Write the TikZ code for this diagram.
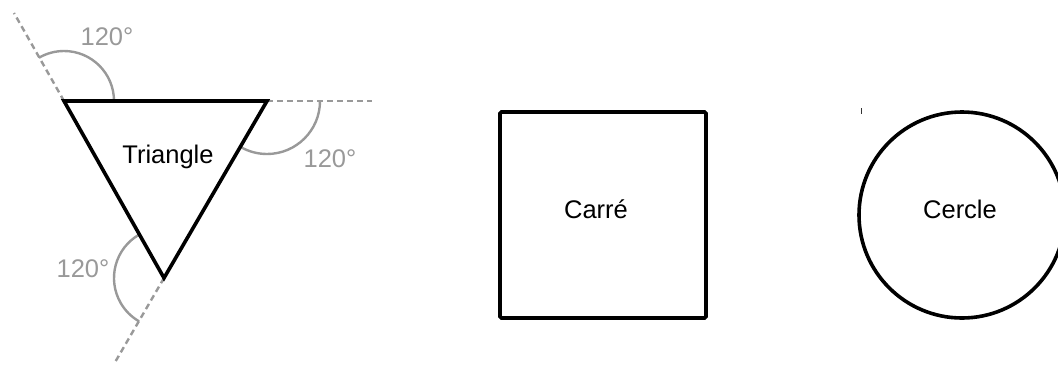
\documentclass[tikz,border=0pt]{standalone}
\usepackage{fontspec}
\setmainfont{Liberation Sans}
\definecolor{guide}{RGB}{153,153,153}
\begin{document}
\begin{tikzpicture}[x=1pt,y=-1pt,
  shapeline/.style={line width=3.6pt,black,line join=miter},
  extline/.style={line width=2.4pt,guide,dash pattern=on 6pt off 4pt},
  anglearc/.style={line width=2.4pt,guide},
  anglelabel/.style={anchor=base,inner sep=0pt,text=guide,font=\fontsize{25.5}{30}\selectfont},
  shapelabel/.style={anchor=base,inner sep=0pt,text=black,font=\fontsize{25.5}{30}\selectfont}]
\useasboundingbox (0,0) rectangle (1058,365);
\clip (0,0) rectangle (1058,365);

% triangle vertices and extension end points
\coordinate (A) at (64,101);
\coordinate (B) at (267,101);
\coordinate (C) at (164,278);
\coordinate (EA) at (14,13);
\coordinate (EB) at (372,101);
\coordinate (EC) at (114,364);

% dashed extensions of the sides
\draw[extline] (A) -- (EA);
\draw[extline] (B) -- (EB);
\draw[extline] (C) -- (EC);

% exterior angle arcs
\draw[anglearc] (A) ++(0:50) arc[start angle=0,end angle=-120,radius=50];
\draw[anglearc] (B) ++(0:53) arc[start angle=0,end angle=120,radius=53];
\draw[anglearc] (C) ++(-120:50) arc[start angle=-120,end angle=-240,radius=50];

% triangle
\draw[shapeline] (A) -- (B) -- (C) -- cycle;

% angle labels
\node[anglelabel] (la) at (107,45) {120°};
\node[anglelabel] (lb) at (330,167) {120°};
\node[anglelabel] (lc) at (83,277) {120°};

\node[shapelabel] (tri) at (168,163) {Triangle};

% square
\draw[shapeline,rounded corners=1.5pt] (500,112) rectangle (706,318);
\node[shapelabel] (sq) at (596,218) {Carré};

% circle
\draw[shapeline] (962,215) circle[radius=103];
\node[shapelabel] (ci) at (960,218) {Cercle};
\draw[line width=1pt,black!80] (861,108) -- (861,114);
\end{tikzpicture}
\end{document}
